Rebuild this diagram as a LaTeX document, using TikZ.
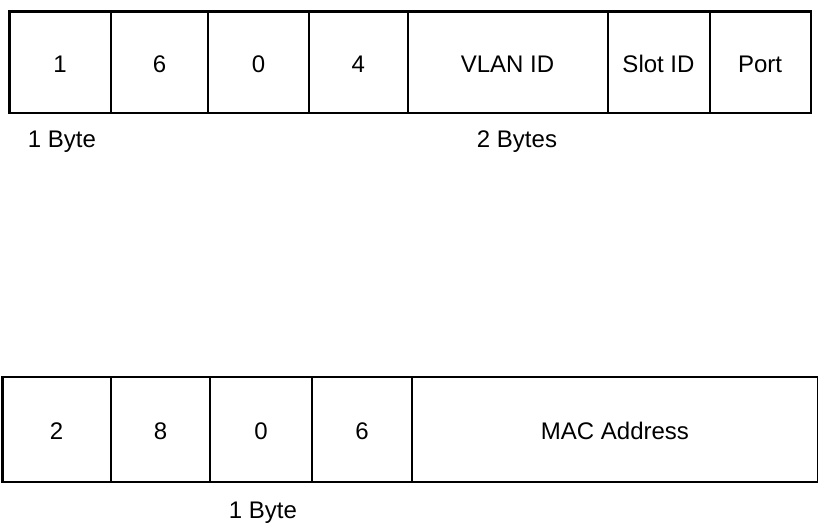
\documentclass[tikz,border=0pt]{standalone}
\usepackage{fontspec}
\setmainfont{Liberation Sans}
\begin{document}
\begin{tikzpicture}[x=1pt,y=-1pt,
  field/.style={draw=black,line width=2pt,minimum height=101.5pt,inner sep=0pt,anchor=north west,text height=21pt,text depth=0pt,font=\fontsize{24}{28}\selectfont},
  frame/.style={draw=black,line width=2.6pt},
  lbl/.style={font=\fontsize{24}{28}\selectfont,inner sep=0pt,text height=21pt,text depth=0pt}]
\useasboundingbox (0,0) rectangle (818,523);
% top row
\node[field,minimum width=102pt] (a1) at (8,10) {1};
\node[field,minimum width=97pt] (a2) at (110,10) {6};
\node[field,minimum width=101pt] (a3) at (207,10) {0};
\node[field,minimum width=98.5pt] (a4) at (308,10) {4};
\node[field,minimum width=200pt] (a5) at (406.5,10) {VLAN ID};
\node[field,minimum width=102pt] (a6) at (606.5,10) {Slot ID};
\node[field,minimum width=101pt] (a7) at (708.5,10) {Port};
\node[frame,inner sep=0pt,minimum width=801.5pt,minimum height=101.5pt,anchor=north west] (topframe) at (8,10) {};
\node[lbl] (b1) at (62,137) {1 Byte};
\node[lbl] (b2) at (517,137) {2 Bytes};
% bottom row
\node[field,minimum width=108.7pt,minimum height=105pt] (c1) at (1.3,375.5) {2};
\node[field,minimum width=99pt,minimum height=105pt] (c2) at (110,375.5) {8};
\node[field,minimum width=102pt,minimum height=105pt] (c3) at (209,375.5) {0};
\node[field,minimum width=100pt,minimum height=105pt] (c4) at (311,375.5) {6};
\node[field,minimum width=406pt,minimum height=105pt] (c5) at (411,375.5) {MAC Address};
\node[frame,inner sep=0pt,minimum width=815.7pt,minimum height=105pt,anchor=north west] (botframe) at (1.3,375.5) {};
\node[lbl] (d1) at (263,508) {1 Byte};
\end{tikzpicture}
\end{document}
